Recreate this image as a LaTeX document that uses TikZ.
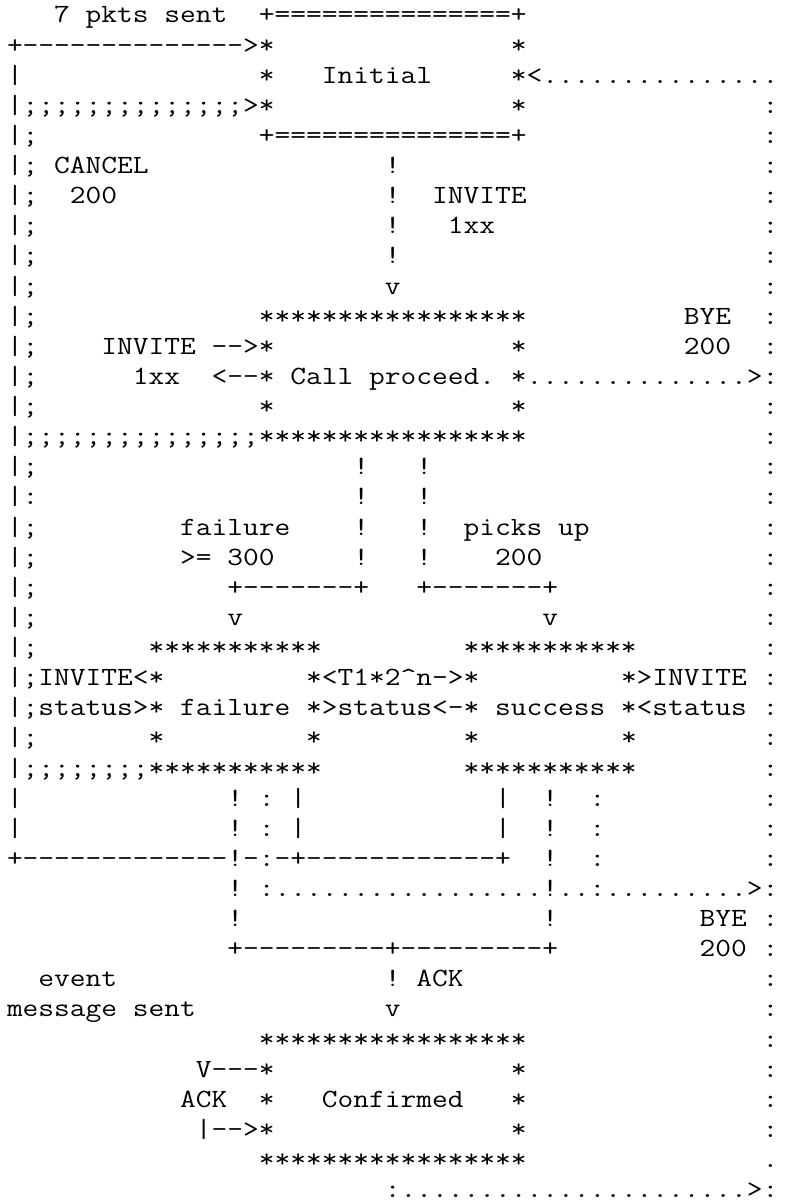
\documentclass[tikz,border=0pt]{standalone}
\usepackage{fontspec}
\usepackage{graphicx}
\newcommand\SPC[1]{\kern#1\fontcharwd\font`\x\relax}
\newcommand\RPT[2]{\ifnum#1>0 #2\expandafter\RPT\expandafter{\the\numexpr#1-1\relax}{#2}\fi}
\newcommand\LN[1]{\scalebox{1}[0.86]{#1}}
\tikzset{
  asc/.style={anchor=base west, inner sep=0pt, outer sep=0pt,
    font=\ttfamily\fontsize{30.57pt}{30pt}\selectfont, text=black}
}
\newcommand\AL[2]{\node[asc] (l#1) at (7pt,{-23pt-30.12pt*(#1-1)}) {\LN{#2}};}
\begin{document}
\begin{tikzpicture}
\fill[white] (0,0) rectangle (788pt,-1204pt);
\useasboundingbox (0,0) rectangle (788pt,-1204pt);
\AL{1}{\SPC{3}7\SPC{1}pkts\SPC{1}sent\SPC{2}+\RPT{15}{=}+}
\AL{2}{+\RPT{14}{-{}}>*\SPC{15}*}
\AL{3}{|\SPC{15}*\SPC{3}Initial\SPC{5}*<\RPT{15}{.}}
\AL{4}{|\RPT{14}{;}>*\SPC{15}*\SPC{15}:}
\AL{5}{|;\SPC{14}+\RPT{15}{=}+\SPC{15}:}
\AL{6}{|;\SPC{1}CANCEL\SPC{15}!\SPC{23}:}
\AL{7}{|;\SPC{2}200\SPC{17}!\SPC{2}INVITE\SPC{15}:}
\AL{8}{|;\SPC{22}!\SPC{3}1xx\SPC{17}:}
\AL{9}{|;\SPC{22}!\SPC{23}:}
\AL{10}{|;\SPC{22}v\SPC{23}:}
\AL{11}{|;\SPC{14}\RPT{17}{*}\SPC{10}BYE\SPC{2}:}
\AL{12}{|;\SPC{4}INVITE\SPC{1}-{}-{}>*\SPC{15}*\SPC{10}200\SPC{2}:}
\AL{13}{|;\SPC{6}1xx\SPC{2}<-{}-{}*\SPC{1}Call\SPC{1}proceed.\SPC{1}*\RPT{14}{.}>:}
\AL{14}{|;\SPC{14}*\SPC{15}*\SPC{15}:}
\AL{15}{|\RPT{15}{;}\RPT{17}{*}\SPC{15}:}
\AL{16}{|;\SPC{20}!\SPC{3}!\SPC{21}:}
\AL{17}{|:\SPC{20}!\SPC{3}!\SPC{21}:}
\AL{18}{|;\SPC{9}failure\SPC{4}!\SPC{3}!\SPC{2}picks\SPC{1}up\SPC{11}:}
\AL{19}{|;\SPC{9}>=\SPC{1}300\SPC{5}!\SPC{3}!\SPC{4}200\SPC{14}:}
\AL{20}{|;\SPC{12}+\RPT{7}{-{}}+\SPC{3}+\RPT{7}{-{}}+\SPC{13}:}
\AL{21}{|;\SPC{12}v\SPC{19}v\SPC{13}:}
\AL{22}{|;\SPC{7}\RPT{11}{*}\SPC{9}\RPT{11}{*}\SPC{8}:}
\AL{23}{|;INVITE<*\SPC{9}*<T1*2\textasciicircum n-{}>*\SPC{9}*>INVITE\SPC{1}:}
\AL{24}{|;status>*\SPC{1}failure\SPC{1}*>status<-{}*\SPC{1}success\SPC{1}*<status\SPC{1}:}
\AL{25}{|;\SPC{7}*\SPC{9}*\SPC{9}*\SPC{9}*\SPC{8}:}
\AL{26}{|\RPT{8}{;}\RPT{11}{*}\SPC{9}\RPT{11}{*}\SPC{8}:}
\AL{27}{|\SPC{13}!\SPC{1}:\SPC{1}|\SPC{12}|\SPC{2}!\SPC{2}:\SPC{10}:}
\AL{28}{|\SPC{13}!\SPC{1}:\SPC{1}|\SPC{12}|\SPC{2}!\SPC{2}:\SPC{10}:}
\AL{29}{+\RPT{13}{-{}}!-{}:-{}+\RPT{12}{-{}}+\SPC{2}!\SPC{2}:\SPC{10}:}
\AL{30}{\SPC{14}!\SPC{1}:\RPT{17}{.}!..:\RPT{9}{.}>:}
\AL{31}{\SPC{14}!\SPC{19}!\SPC{9}BYE\SPC{1}:}
\AL{32}{\SPC{14}+\RPT{9}{-{}}+\RPT{9}{-{}}+\SPC{9}200\SPC{1}:}
\AL{33}{\SPC{2}event\SPC{17}!\SPC{1}ACK\SPC{19}:}
\AL{34}{message\SPC{1}sent\SPC{12}v\SPC{23}:}
\AL{35}{\SPC{16}\RPT{17}{*}\SPC{15}:}
\AL{36}{\SPC{12}V-{}-{}-{}*\SPC{15}*\SPC{15}:}
\AL{37}{\SPC{11}ACK\SPC{2}*\SPC{3}Confirmed\SPC{3}*\SPC{15}:}
\AL{38}{\SPC{12}|-{}-{}>*\SPC{15}*\SPC{15}:}
\AL{39}{\SPC{16}\RPT{17}{*}\SPC{15}.}
\AL{40}{\SPC{24}:\RPT{22}{.}>:}
\end{tikzpicture}
\end{document}
